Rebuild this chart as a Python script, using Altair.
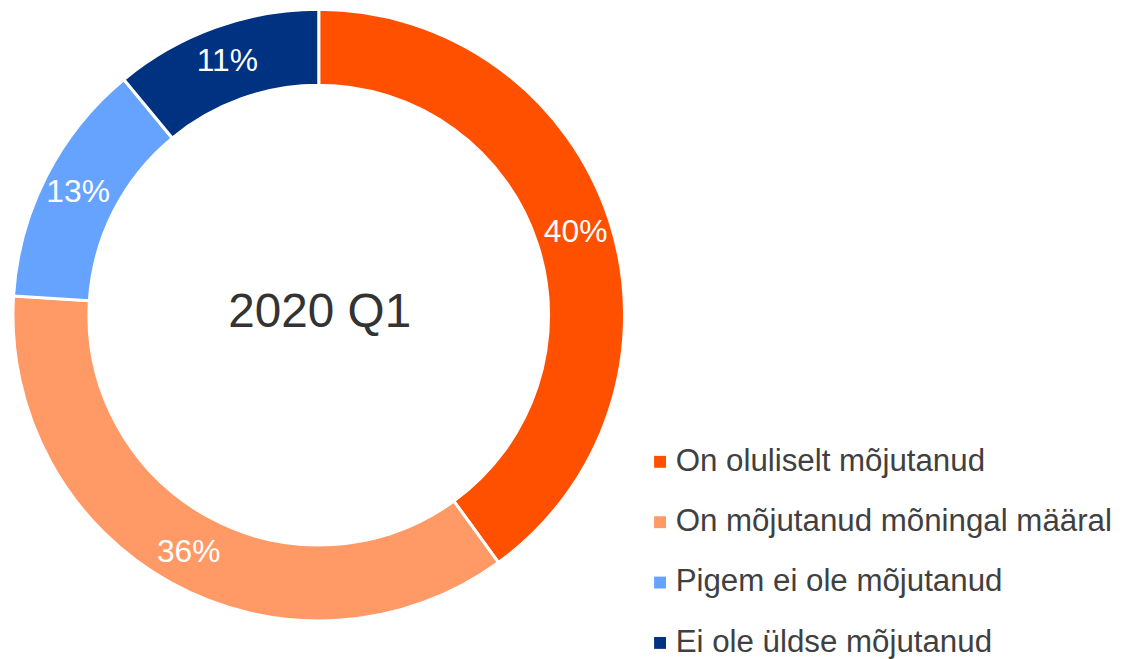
import altair as alt
import pandas as pd

categories = ["On oluliselt mõjutanud", "On mõjutanud mõningal määral",
              "Pigem ei ole mõjutanud", "Ei ole üldse mõjutanud"]
values = [40, 36, 13, 11]
colors = ["#FF5000", "#FF9966", "#66A3FF", "#003282"]
center_label = "2020 Q1"

df = pd.DataFrame({
    "category": categories,
    "value": values,
    "order": list(range(len(categories))),
    "label": [f"{v}%" for v in values],
})

CX, CY = 313, 307
FONT = "Liberation Sans"

theta = alt.Theta("value:Q", stack=True)
color = alt.Color(
    "category:N",
    scale=alt.Scale(domain=categories, range=colors),
    sort=categories,
    legend=alt.Legend(
        title=None,
        orient="none",
        legendX=641,
        legendY=439,
        symbolType="square",
        symbolSize=144,
        symbolStrokeWidth=0,
        labelFont=FONT,
        labelFontSize=31.5,
        labelColor="#404040",
        labelOffset=0,
        rowPadding=27.8,
        padding=0,
        labelLimit=700,
    ),
)

base = alt.Chart(df).encode(
    theta=theta,
    order=alt.Order("order:Q"),
)

arcs = base.mark_arc(innerRadius=231.5, outerRadius=308, stroke="white", strokeWidth=3).encode(
    color=color,
    x=alt.value(CX),
    y=alt.value(CY),
)

labels = base.mark_text(radius=272, font=FONT, fontSize=32, color="white",
                        align="center", baseline="middle").encode(
    text="label:N",
    x=alt.value(CX),
    y=alt.value(CY),
)

center = alt.Chart(pd.DataFrame({"t": [center_label]})).mark_text(
    font=FONT, fontSize=48, color="#333333", align="center", baseline="alphabetic"
).encode(
    text="t:N",
    x=alt.value(CX + 1),
    y=alt.value(319),
)

chart = alt.layer(arcs, labels, center).properties(
    width=1116, height=651, padding=0, autosize="none"
).configure_view(stroke=None)

chart.save("out.html", embed_options={"renderer": "svg", "actions": False})
